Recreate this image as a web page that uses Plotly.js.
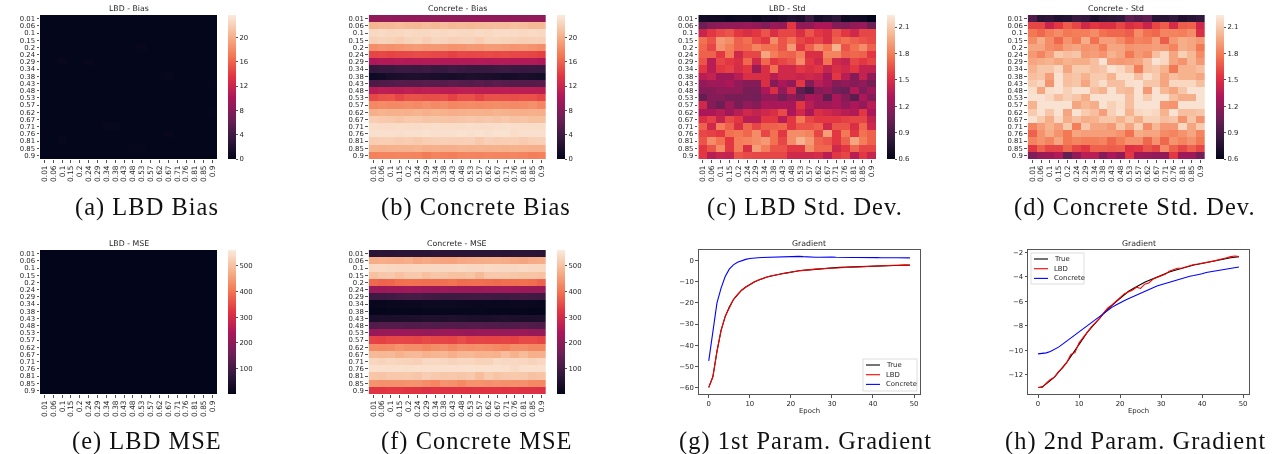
<!DOCTYPE html>
<html><head><meta charset="utf-8">
<script src="https://cdn.plot.ly/plotly-3.0.1.min.js"></script>
<style>html,body{margin:0;padding:0;background:#fff;overflow:hidden}#c{width:1281px;height:454px;filter:blur(.45px)}
.annotation-text[style*="Liberation Serif"]{letter-spacing:1.05px}</style>
</head><body><div id="c"></div>
<script>
const labels=['0.01','0.06','0.1','0.15','0.2','0.24','0.29','0.34','0.38','0.43','0.48','0.53','0.57','0.62','0.67','0.71','0.76','0.81','0.85','0.9'];
const lbdBias=[
[.1,.1,.1,.1,.1,.1,.1,.1,.1,.1,.1,.1,.1,.1,.1,.1,.1,.1,.1,.1],
[.1,.1,.1,.1,.1,.1,.1,.1,.1,.1,.1,.1,.1,.1,.1,.1,.1,.1,.1,.1],
[.1,.1,.1,.1,.1,.1,.15,.1,.1,.1,.1,.1,.1,.1,.1,.1,.1,.1,.1,.1],
[.15,.1,.1,.1,.1,.1,.1,.1,.1,.1,.1,.1,.1,.1,.1,.1,.1,.1,.1,.1],
[.1,.1,.1,.1,.1,.1,.1,.1,.1,.1,.1,.4,.1,.1,.1,.1,.1,.1,.1,.1],
[.1,.1,.1,.1,.1,.1,.1,.1,.1,.1,.1,.1,.1,.1,.1,.1,.1,.1,.1,.1],
[.1,.1,.35,.1,.1,.35,.1,.1,.1,.1,.1,.1,.1,.1,.1,.1,.1,.1,.1,.1],
[.1,.1,.1,.1,.1,.1,.1,.1,.1,.1,.1,.1,.1,.1,.1,.1,.1,.1,.1,.1],
[.1,.1,.1,.1,.1,.1,.1,.1,.1,.1,.1,.1,.1,.1,.3,.1,.1,.1,.1,.1],
[.1,.1,.1,.1,.1,.1,.1,.1,.1,.1,.1,.1,.1,.1,.1,.1,.1,.1,.1,.2],
[.1,.1,.1,.1,.1,.1,.1,.1,.1,.1,.1,.1,.1,.1,.1,.1,.1,.1,.1,.1],
[.1,.1,.1,.1,.1,.1,.1,.1,.1,.1,.1,.1,.1,.1,.1,.1,.1,.1,.1,.1],
[.1,.1,.1,.1,.1,.1,.1,.1,.1,.1,.1,.1,.1,.1,.1,.1,.1,.1,.1,.1],
[.1,.1,.1,.1,.1,.1,.1,.1,.1,.1,.1,.1,.1,.1,.1,.1,.1,.1,.1,.2],
[.1,.1,.1,.1,.1,.1,.1,.1,.1,.1,.1,.1,.1,.1,.1,.1,.1,.1,.1,.1],
[.1,.1,.15,.1,.1,.1,.1,.3,.3,.1,.1,.1,.1,.1,.1,.1,.1,.1,.1,.1],
[.15,.1,.1,.1,.1,.1,.1,.1,.1,.1,.1,.1,.1,.1,.35,.1,.1,.1,.1,.1],
[.1,.1,.3,.1,.1,.1,.1,.1,.1,.1,.1,.1,.1,.1,.1,.1,.1,.1,.1,.1],
[.1,.1,.1,.1,.1,.1,.1,.1,.1,.1,.2,.2,.1,.1,.1,.1,.1,.1,.1,.1],
[.1,.1,.1,.1,.1,.1,.1,.1,.1,.1,.1,.1,.1,.1,.1,.1,.1,.1,.1,.1]];
const concreteBias=[
[8.6,8.5,8.6,8.5,8.6,8.7,8.6,8.5,8.6,8.6,8.5,8.6,8.7,8.6,8.5,8.6,8.6,8.5,8.6,8.6],
[20.3,20.6,20.6,20.8,20.6,20.5,20.8,20.6,20.9,20.6,20.7,20.6,20.7,20.8,20.9,20.8,21,20.9,20.6,20.6],
[22.5,22.6,22.4,22.5,22.6,22.5,22.5,22.6,22.5,22.6,22.5,22.5,22.6,22.5,22.7,22.7,22.6,22.5,22.6,22.5],
[22,22.2,22.1,21.8,22.2,22.3,21.9,22.3,22.2,22,22.1,22.2,21.8,22.3,22.3,22.2,22.1,21.9,22,22],
[18.2,18.5,18.3,18.6,18.8,18.9,18.7,18.8,18.7,18.5,18.6,18.8,18.7,18.9,19,18.8,18.6,18.7,18.5,18.2],
[14.4,14.6,14.3,14.5,14.6,14.8,14.7,14.6,14.6,14.2,14.6,14.5,14.6,14.7,14.6,14.7,14.6,14.5,14.4,14.2],
[10.3,10.5,10.4,10.6,10.5,10.5,10.6,10.6,10.5,10.4,10.4,10.5,10.6,10.5,10.6,10.6,10.5,10.4,10.5,10.3],
[3.2,3.4,3.4,3.7,3.7,3.6,3.8,3.5,3.5,3.8,3.6,3.5,3.4,3.5,3.7,3.8,3.6,3.5,3.6,3.4],
[.8,1.1,1.5,1.6,1.8,1.8,1.7,1.6,1.5,1.4,1.6,1.8,1.7,1.6,1.5,1.2,1.4,1.6,1.3,1.2],
[4.6,4.9,5,5.3,5.2,5.2,5.4,5.3,5.2,5.5,5.3,5.1,5.4,5.2,5.5,5.3,5.1,5.2,5.2,5.3],
[10.8,11.1,11,10.9,11.2,11,11.2,11.1,10.9,10.9,11.1,11.2,11,11,11,11.1,11,11,11,11],
[14.6,15.1,15.2,14.4,15.1,15.1,14.9,14.9,15,14.2,15,15,14.3,15,15.1,15,14.9,15.1,15,14.5],
[17.9,18.1,18,18,18.2,18,18.3,18,18.2,17.8,18,18.1,18,18.1,18.2,18.1,18,18.1,18.3,17.8],
[20,20.3,20.1,20.2,20.1,20.3,20.1,20.3,20.2,20,20.1,20.2,20.2,20.1,20.3,20.2,20.1,20,20.1,20],
[21.8,21.6,21.5,21.3,21.6,21.5,21.3,21.4,21.3,21.2,21.4,21.5,21.4,21.5,21.3,21.5,21.2,21.3,21,21],
[22.8,22.7,22.7,22.8,22.7,22.7,22.8,22.9,22.8,22.8,22.8,22.9,22.8,22.8,22.9,23,22.9,22.8,22.8,22.8],
[23,23,23,22.9,23,23,23.1,23,23,23,23.1,23,23.1,23,23.1,23.1,22.8,23,23,23],
[21.8,21.9,21.9,21.7,21.8,21.6,21.8,21.9,22,21.9,21.9,22,21.6,22,21.8,21.9,21.9,21.7,21.9,22],
[20.2,20,20.1,20.2,20.2,20.3,20,20.1,20,20,20.2,20.1,20.2,20.1,20.2,20.1,20.2,20.1,20,20],
[17.5,17.6,17.6,17.7,17.7,17.6,17.2,17.6,17.5,17.4,17.6,17.7,17.6,17.8,17.7,17.7,17.8,17.6,17.4,17.5]];
const lbdStd=[
[.68,.66,.66,.64,.66,.66,.64,.68,.66,.7,.75,.72,.85,.7,.74,.8,.66,.68,.66,.6],
[1.05,1.15,1.18,1.2,1.2,1.22,1.2,1.13,1.22,1.2,1.55,1.2,1.2,1.3,1.3,1.15,1.12,1.2,1.22,1.05],
[1.42,1.55,1.62,1.65,1.55,1.5,1.55,1.65,1.5,1.6,1.6,1.5,1.65,1.55,1.5,1.65,1.55,1.45,1.6,1.6],
[1.75,1.65,1.9,1.85,1.7,1.75,1.62,1.55,1.85,1.65,1.75,1.6,1.55,1.6,1.5,1.7,1.75,1.7,1.65,1.62],
[1.72,1.6,1.88,1.8,1.7,1.72,1.82,1.75,1.75,1.65,1.9,1.55,1.7,1.85,1.75,2,1.65,1.75,1.85,1.7],
[1.7,1.7,1.55,1.78,1.45,1.6,1.6,1.95,1.8,1.72,1.7,1.8,1.5,1.5,1.82,1.82,1.7,1.72,1.7,1.55],
[1.65,1.35,1.6,1.55,1.5,1.72,1.45,1.72,1.55,1.6,1.65,1.85,1.55,1.45,1.75,1.45,1.4,1.6,1.55,1.6],
[1.55,1.35,1.55,1.58,1.48,1.55,1.22,1.5,1.75,1.45,1.45,1.55,1.5,1.55,1.4,1.5,1.45,1.55,1.4,1.4],
[1.35,1.4,1.25,1.25,1.35,1.5,1.5,1.5,1.35,1.45,1.45,1.42,1.45,1.42,1.28,1.55,1.35,1.15,1.4,1.2],
[1.2,1.25,1.25,1.3,1.2,1.15,1.15,1.5,1.15,1.3,1.2,1.55,1.15,1.35,1.28,1.15,1.2,1.15,1.2,1.1],
[1.15,1.15,1.2,1.2,1.2,1.1,1.1,1.3,1.5,1.2,1.45,1,.9,1.15,1.2,1.08,1.05,1.32,1.12,1.25],
[1.02,1.15,1.15,1.1,1.1,1.1,1.08,1.2,1.2,1.08,1.2,1.1,1.3,1.25,1,1.3,1.15,.98,1.3,1.15],
[1.45,1.15,1.05,1.25,1.1,1.2,1.15,1.3,1.28,1.3,1.28,1.55,1.35,1.25,1.25,1.3,1.2,1.3,1.2,1.35],
[1.3,1.3,1.35,1.25,1.35,1.45,1.4,1.45,1.5,1.62,1.3,1.45,1.3,1.5,1.45,1.4,1.35,1.32,1.55,1.3],
[1.5,1.58,1.4,1.62,1.55,1.35,1.35,1.55,1.55,1.35,1.55,1.78,1.6,1.55,1.55,1.55,1.58,1.6,1.6,1.4],
[1.7,1.45,1.8,1.7,1.5,1.72,1.6,1.7,1.7,1.72,1.55,1.65,1.65,1.7,1.45,1.65,1.65,1.5,1.72,1.45],
[1.6,1.58,1.55,1.75,1.78,1.72,1.85,1.6,1.75,1.55,1.85,1.85,1.82,1.6,1.92,1.55,1.78,1.55,1.75,1.7],
[1.65,1.85,1.75,1.55,1.8,1.82,1.85,1.9,1.75,1.6,1.85,2,1.9,1.7,1.65,1.55,1.7,1.95,1.8,1.7],
[1.55,1.65,1.85,1.55,1.8,1.5,1.92,1.8,1.65,1.65,1.55,1.55,1.85,1.72,1.72,1.45,1.55,1.72,1.6,1.6],
[1.55,1.35,1.42,1.4,1.65,1.62,1.6,1.6,1.6,1.6,1.45,1.45,1.45,1.48,1.35,1.55,1.6,1.35,1.55,1.42]];
const concreteStd=[
[.95,.78,.8,.74,.76,.85,.82,.72,.78,.8,.82,1,.95,1,.78,.78,.82,.74,.78,.82],
[1.6,1.6,1.42,1.55,1.68,1.6,1.45,1.55,1.5,1.5,1.6,1.5,1.55,1.42,1.6,1.68,1.48,1.68,1.7,1.45],
[1.78,1.72,1.8,1.85,1.78,1.8,1.8,1.85,1.75,1.72,1.72,1.68,1.85,1.75,1.72,1.82,1.82,1.8,1.85,1.5],
[1.85,1.98,1.85,1.72,1.88,1.78,1.98,1.75,1.92,1.92,1.85,1.75,1.82,1.8,1.92,1.68,1.9,1.98,1.95,1.9],
[1.95,1.95,1.85,1.82,1.92,1.95,1.88,1.9,1.8,1.95,1.95,1.88,1.9,1.9,1.92,1.9,1.82,1.98,1.95,1.78],
[1.9,1.82,1.92,2.1,2.05,2.08,1.9,1.92,1.88,2,1.95,1.78,1.9,1.85,2.05,2.15,1.95,2.12,2.02,1.85],
[1.95,1.98,2,1.95,2,1.98,1.98,2.05,2.2,1.92,1.9,1.92,1.95,2.05,2.2,2.15,1.95,1.88,2.02,1.9],
[2,2.08,2.08,2.15,1.95,2.1,2.1,2.05,2.08,2.2,2.15,2.05,1.8,2.05,2.08,2,1.78,2,2,2.05],
[2.05,2.08,1.92,2.2,2.05,2.08,2,2.1,2.1,2,2.18,2.18,2.05,2.18,2.1,1.95,2.05,2,2,1.95],
[2.1,2.15,1.88,2.2,2.05,2.08,1.95,2.1,2.18,2.05,2.05,2.18,2.2,2.08,2.08,1.95,2.15,2.15,2.15,2.05],
[2.18,1.95,2.18,2.2,2.12,2.2,2.2,2.05,2,2.2,2.05,2.02,2.2,1.9,2.2,2.02,1.95,2.08,2.2,2.2],
[2.2,2.2,2.15,2.05,2.12,2.08,1.98,2.2,2.2,2.2,2.2,2.05,2.2,2.1,2.2,2.2,2.05,1.98,1.98,2.2],
[2,2.2,2.2,2.2,2.2,1.95,2.02,1.98,2.2,2.12,2.18,2.05,2.2,2.2,2.2,1.9,1.88,2.2,2.2,2.2],
[2.1,2.2,2.08,2.2,1.95,2.2,2.1,2.05,1.92,2.12,2.2,2,2.15,2.18,2.15,2,2.2,2.05,2.05,2.08],
[2.2,2.1,1.98,2.15,1.98,2.05,1.98,2,2.08,2.08,2,2.1,1.98,2.12,2.12,2.05,2.08,1.88,2.08,1.88],
[1.82,1.92,2,1.92,2.1,1.8,2.08,1.95,1.95,1.9,2.08,1.95,2.12,1.85,2.02,1.9,1.9,2.15,1.95,2.1],
[1.7,1.88,1.98,1.88,1.78,1.95,1.92,1.92,1.92,1.92,1.88,1.75,1.98,1.95,1.95,1.85,1.82,1.88,1.95,1.82],
[1.82,1.88,1.82,1.95,1.78,1.82,1.8,1.8,1.82,1.72,1.8,1.88,1.88,1.72,1.88,1.72,1.88,1.82,1.88,1.78],
[1.55,1.7,1.6,1.6,1.72,1.6,1.55,1.7,1.7,1.68,1.7,1.52,1.55,1.65,1.6,1.85,1.7,1.6,1.7,1.6],
[1.12,1.22,1.25,1.32,1.02,1.2,1.35,1.35,1.15,1.3,1.2,1.55,1.25,1.22,1.2,1.2,1.55,1.25,1.25,1.1]];
const lbdMse=[
[2,2,2,2,2,2,2,2,2,2,2,2,2,2,2,2,2,2,2,2],
[2,2,2,2,2,2,2,2,2,2,2,2,2,2,2,2,2,2,2,2],
[2,2,2,2,2,2,2,2,2,2,2,2,2,2,2,2,2,2,2,2],
[2,2,2,2,2,2,2,2,2,2,2,2,2,2,2,2,2,2,2,2],
[2,2,2,2,2,2,2,2,2,2,2,2,2,2,2,2,2,2,2,2],
[2,2,2,2,2,2,2,2,2,2,2,2,2,2,2,2,2,2,2,2],
[2,2,2,2,2,2,2,2,2,2,2,2,2,2,2,2,2,2,2,2],
[2,2,2,2,2,2,2,2,2,2,2,2,2,2,2,2,2,2,2,2],
[2,2,2,2,2,2,2,2,2,2,2,2,2,2,2,2,2,2,2,2],
[2,2,2,2,2,2,2,2,2,2,2,2,2,2,2,2,2,2,2,2],
[2,2,2,2,2,2,2,2,2,2,2,2,2,2,2,2,2,2,2,2],
[2,2,2,2,2,2,2,2,2,2,2,2,2,2,2,2,2,2,2,2],
[2,2,2,2,2,2,2,2,2,2,2,2,2,2,2,2,2,2,2,2],
[2,2,2,2,2,2,2,2,2,2,2,2,2,2,2,2,2,2,2,2],
[2,2,2,2,2,2,2,2,2,2,2,2,2,2,2,2,2,2,2,2],
[2,2,2,2,2,2,2,2,2,2,2,2,2,2,2,2,2,2,2,2],
[2,2,2,2,2,2,2,2,2,2,2,2,2,2,2,2,2,2,2,2],
[2,2,2,2,2,2,2,2,2,2,2,2,2,2,2,2,2,2,2,2],
[2,2,2,2,2,2,2,2,2,2,2,2,2,2,2,2,2,2,2,2],
[2,2,2,2,2,2,2,2,2,2,2,2,2,2,2,2,2,2,2,2]];
const concreteMse=[
[62,64,63,66,65,66,66,68,66,64,65,66,64,66,64,62,64,65,64,63],
[470,472,470,468,475,462,468,462,460,458,465,468,470,472,475,470,465,462,468,472],
[535,535,533,530,530,532,534,534,534,534,536,534,534,536,535,534,534,536,534,532],
[498,508,510,500,510,512,498,508,506,498,498,504,490,510,512,510,508,504,504,500],
[385,378,382,392,396,394,392,392,394,398,390,392,394,390,386,392,392,396,390,378],
[215,218,220,222,224,222,218,218,220,216,218,218,216,220,220,222,220,218,216,216],
[92,94,98,102,104,104,100,96,92,92,94,96,98,96,92,94,98,100,96,94],
[10,10,12,12,14,14,16,16,16,16,14,14,12,12,12,12,14,14,12,10],
[4,4,6,6,6,6,8,8,8,8,8,8,8,6,6,6,6,6,4,4],
[38,40,40,42,44,44,46,46,44,48,46,44,42,42,44,46,44,42,42,44],
[120,122,124,122,118,118,122,118,122,124,118,122,122,120,118,116,118,122,118,116],
[212,216,216,218,218,216,212,214,216,218,216,212,214,216,216,214,214,216,212,208],
[340,338,344,346,344,340,350,344,344,340,352,340,342,340,340,342,338,350,350,342],
[428,426,428,438,432,430,422,432,436,424,434,430,434,430,426,418,432,432,424,424],
[490,488,490,478,488,490,478,484,486,474,486,488,480,482,478,494,478,492,476,476],
[530,525,530,528,524,522,534,532,530,526,530,530,524,526,536,534,534,530,526,532],
[544,544,542,544,542,544,544,544,544,544,544,546,544,546,546,544,536,544,544,544],
[506,504,510,510,512,506,518,512,508,510,506,512,496,514,504,510,512,510,502,504],
[440,434,434,436,440,440,430,422,438,434,426,438,438,436,438,436,436,436,426,424],
[322,322,326,324,322,318,312,318,316,316,318,316,320,322,322,318,322,316,316,312]];
const epochs=[0,1,2,3,4,5,6,7,8,9,10,11,12,13,14,15,16,17,18,19,20,21,22,23,24,25,26,27,28,29,30,31,32,33,34,35,36,37,38,39,40,41,42,43,44,45,46,47,48,49];
const g1True=[-60,-55,-43,-33,-26.5,-22,-18.5,-16,-14,-12.5,-11.2,-10.2,-9.3,-8.5,-7.9,-7.4,-6.9,-6.5,-6.1,-5.8,-5.4,-5.1,-4.8,-4.6,-4.4,-4.2,-4,-3.85,-3.7,-3.55,-3.4,-3.3,-3.2,-3.1,-3,-2.9,-2.85,-2.75,-2.7,-2.6,-2.55,-2.5,-2.45,-2.4,-2.35,-2.3,-2.25,-2.2,-2.15,-2.1];
const g1Lbd=[-60,-55,-43,-33,-26.4,-22,-18.4,-16,-14,-12.6,-11.2,-10.1,-9.3,-8.5,-7.9,-7.3,-6.9,-6.5,-6.1,-5.7,-5.4,-5.1,-4.8,-4.6,-4.3,-4.2,-4,-3.8,-3.7,-3.5,-3.4,-3.3,-3.2,-3.1,-3,-2.9,-2.8,-2.75,-2.6,-2.6,-2.5,-2.45,-2.4,-2.4,-2.3,-2.2,-2.2,-2.05,-2,-2.15];
const g1Concrete=[-47.5,-34.5,-20,-13,-7.5,-4,-2,-.8,0,.6,1,1.3,1.4,1.5,1.6,1.7,1.8,1.8,1.9,2,2,2,2.05,1.9,1.7,1.75,1.65,1.6,1.75,1.6,1.7,1.6,1.5,1.5,1.55,1.5,1.5,1.55,1.5,1.4,1.5,1.45,1.4,1.3,1.35,1.35,1.4,1.4,1.35,1.3];
const g2True=[-13.05,-13,-12.75,-12.5,-12.2,-11.8,-11.4,-11,-10.5,-10,-9.45,-9,-8.55,-8.15,-7.8,-7.4,-7,-6.65,-6.35,-6.05,-5.75,-5.45,-5.2,-5,-4.8,-4.6,-4.45,-4.3,-4.15,-4,-3.9,-3.75,-3.6,-3.5,-3.4,-3.3,-3.2,-3.1,-3.03,-2.97,-2.9,-2.83,-2.75,-2.68,-2.62,-2.55,-2.5,-2.45,-2.4,-2.35];
const g2Lbd=[-13.05,-13.05,-12.7,-12.4,-12.2,-11.75,-11.45,-11,-10.35,-10.2,-9.4,-8.95,-8.5,-8.1,-7.75,-7.4,-6.95,-6.55,-6.3,-6,-5.75,-5.4,-5.25,-5.1,-4.85,-4.95,-4.6,-4.5,-4.2,-4.05,-3.95,-3.8,-3.55,-3.45,-3.3,-3.3,-3.2,-3.05,-3,-2.95,-2.9,-2.85,-2.75,-2.7,-2.6,-2.55,-2.45,-2.35,-2.3,-2.35];
const g2Concrete=[-10.3,-10.28,-10.22,-10.1,-9.95,-9.75,-9.5,-9.25,-9,-8.7,-8.45,-8.2,-7.95,-7.7,-7.45,-7.2,-6.95,-6.75,-6.5,-6.3,-6.1,-5.95,-5.8,-5.65,-5.45,-5.3,-5.15,-5,-4.85,-4.75,-4.65,-4.55,-4.45,-4.3,-4.2,-4.15,-4.05,-3.95,-3.9,-3.85,-3.75,-3.65,-3.6,-3.55,-3.5,-3.45,-3.4,-3.3,-3.25,-3.2];
const seriesNames=['True','LBD','Concrete'];
const seriesColors=['#000000','#ff0000','#0000ff'];
const biasTicks=[0,4,8,12,16,20], stdTicks=[0.6,0.9,1.2,1.5,1.8,2.1], mseTicks=[100,200,300,400,500];
const rocket=[[0,'#03051a'],[.143,'#35193e'],[.286,'#701f57'],[.429,'#ad1759'],[.571,'#e13342'],[.714,'#f37651'],[.857,'#f6b48f'],[1,'#faebdd']];

const W=1281,H=454,TXT='#262626',SANS='"DejaVu Sans",sans-serif',SERIF='"Liberation Serif",serif',CAP=24.4;
const dx=(a,b)=>[a/W,b/W], dy=(t,b)=>[1-b/H,1-t/H];
const heat=[
 {z:lbdBias,t:'LBD - Bias',l:40,r:217,top:15,bot:159,cb:228,zr:[0,23.67],ticks:biasTicks,cap:'(a) LBD Bias',cx:147,cy:207},
 {z:concreteBias,t:'Concrete - Bias',l:368.7,r:546,top:15,bot:159,cb:557,zr:[0,23.67],ticks:biasTicks,cap:'(b) Concrete Bias',cx:476,cy:207},
 {z:lbdStd,t:'LBD - Std',l:698.3,r:876,top:15,bot:159,cb:887,zr:[.6,2.237],ticks:stdTicks,cap:'(c) LBD Std. Dev.',cx:805,cy:207},
 {z:concreteStd,t:'Concrete - Std',l:1027.7,r:1205,top:15,bot:159,cb:1216,zr:[.6,2.237],ticks:stdTicks,cap:'(d) Concrete Std. Dev.',cx:1135,cy:207},
 {z:lbdMse,t:'LBD - MSE',l:40,r:217,top:250,bot:394,cb:228,zr:[1.3,561],ticks:mseTicks,cap:'(e) LBD MSE',cx:147,cy:441},
 {z:concreteMse,t:'Concrete - MSE',l:368.7,r:546,top:250,bot:394,cb:557,zr:[1.3,561],ticks:mseTicks,cap:'(f) Concrete MSE',cx:477,cy:441}];
const traces=[],annotations=[],shapes=[];
const layout={width:W,height:H,margin:{l:0,r:0,t:0,b:0,autoexpand:false},paper_bgcolor:'#fff',plot_bgcolor:'#fff',annotations,shapes,showlegend:false};
const label=(text,x,y,size,family,color,anchor)=>annotations.push({text,x:x/W,y:1-y/H,xref:'paper',yref:'paper',xanchor:anchor||'center',yanchor:'middle',showarrow:false,borderpad:0,font:{size,family,color}});
let n=0;
heat.forEach(p=>{
  n++; const s=n===1?'':n;
  traces.push({type:'heatmap',z:p.z,x:labels,y:labels,xaxis:'x'+s,yaxis:'y'+s,colorscale:rocket,zmin:p.zr[0],zmax:p.zr[1],xgap:0,ygap:0,
    colorbar:{x:p.cb/W,xanchor:'left',xpad:0,ypad:0,y:1-p.top/H,yanchor:'top',len:p.bot-p.top,lenmode:'pixels',thickness:7.5,thicknessmode:'pixels',outlinewidth:0,ticks:'outside',ticklen:2.5,tickcolor:TXT,tickwidth:.8,tickmode:'array',tickvals:p.ticks,ticktext:p.ticks.map(String),tickfont:{size:6.9,family:SANS,color:TXT}}});
  const ax={type:'category',tickmode:'array',tickvals:labels,ticktext:labels,ticks:'outside',ticklen:2.5,tickwidth:.8,tickcolor:TXT,showgrid:false,zeroline:false,showline:false};
  layout['xaxis'+s]={...ax,domain:dx(p.l,p.r),anchor:'y'+s,tickangle:-90,tickfont:{size:7.4,family:SANS,color:TXT}};
  layout['yaxis'+s]={...ax,domain:dy(p.top,p.bot),anchor:'x'+s,autorange:'reversed',tickfont:{size:6.9,family:SANS,color:TXT}};
  label(p.t,(p.l+p.r)/2,p.top-7,7.8,SANS,TXT);
  label(p.cap,p.cx,p.cy,CAP,SERIF,'#111');
});
const lines=[
 {l:698.7,r:920,top:250,bot:394,yr:[-63.16,5.05],yt:[-60,-50,-40,-30,-20,-10,0],d:[g1True,g1Lbd,g1Concrete],cap:'(g) 1st Param. Gradient',cx:805,cy:441,box:[863,359,917,391],trueKey:{color:'#666666',width:1.8}},
 {l:1028,r:1249,top:250,bot:394,yr:[-13.58,-1.81],yt:[-12,-10,-8,-6,-4,-2],d:[g2True,g2Lbd,g2Concrete],cap:'(h) 2nd Param. Gradient',cx:1135,cy:441,box:[1031,253,1084,284],trueKey:{color:'#000000',width:1.1}}];
lines.forEach(p=>{
  n++; const s=n;
  p.d.forEach((ys,k)=>traces.push({type:'scatter',mode:'lines',x:epochs,y:ys,name:seriesNames[k],xaxis:'x'+s,yaxis:'y'+s,line:{color:seriesColors[k],width:1.1}}));
  const ax={showgrid:false,zeroline:false,showline:true,mirror:true,linecolor:'#555',linewidth:1,ticks:'outside',ticklen:2.5,tickwidth:.8,tickcolor:TXT,tickfont:{size:6.9,family:SANS,color:TXT}};
  layout['xaxis'+s]={...ax,domain:dx(p.l,p.r),anchor:'y'+s,range:[-2.45,51.45],tickmode:'array',tickvals:[0,10,20,30,40,50]};
  layout['yaxis'+s]={...ax,domain:dy(p.top,p.bot),anchor:'x'+s,range:p.yr,tickmode:'array',tickvals:p.yt,ticktext:p.yt.map(v=>v<0?'\u2212'+(-v):String(v))};
  label('Epoch',(p.l+p.r)/2,410.5,6.9,SANS,TXT);
  label('Gradient',(p.l+p.r)/2,p.top-7,7.8,SANS,TXT);
  label(p.cap,p.cx,p.cy,CAP,SERIF,'#111');
  const [x0,y0,x1,y1]=p.box;
  shapes.push({type:'rect',xref:'paper',yref:'paper',x0:x0/W,x1:x1/W,y0:1-y0/H,y1:1-y1/H,fillcolor:'rgba(255,255,255,.85)',line:{color:'#d0d0d0',width:.7}});
  seriesNames.forEach((name,k)=>{
    const yy=y0+6+k*9.7;
    const st=k===0?p.trueKey:{color:seriesColors[k],width:1.1};
    shapes.push({type:'line',xref:'paper',yref:'paper',x0:(x0+3)/W,x1:(x0+17)/W,y0:1-yy/H,y1:1-yy/H,line:st});
    label(name,x0+22,yy,6.9,SANS,TXT,'left');
  });
});
Plotly.newPlot('c',traces,layout,{staticPlot:true,displayModeBar:false});
</script></body></html>
